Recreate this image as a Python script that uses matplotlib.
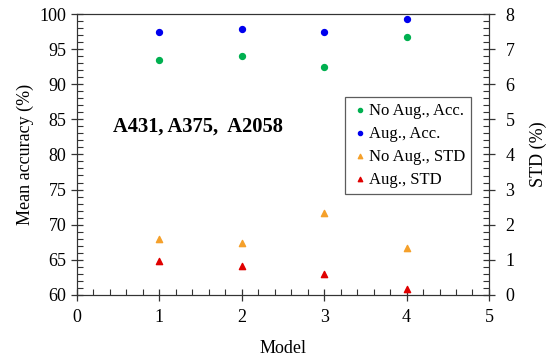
import matplotlib
matplotlib.use('Agg')
import matplotlib.pyplot as plt
from matplotlib.ticker import MultipleLocator

plt.rcParams['font.family'] = ['Liberation Serif', 'DejaVu Serif']

models = [1, 2, 3, 4]
acc_noaug = [93.4, 94.0, 92.5, 96.8]
acc_aug = [97.4, 97.8, 97.5, 99.3]
std_noaug = [1.59, 1.47, 2.33, 1.33]
std_aug = [0.96, 0.83, 0.59, 0.16]

fig = plt.figure(figsize=(5.5, 3.6), dpi=100)
ax = fig.add_axes([0.14, 0.181, 0.749, 0.78])
ax2 = ax.twinx()

h1 = ax.scatter(models, acc_noaug, color='#00b050', s=18, marker='o', zorder=3, label='No Aug., Acc.')
h2 = ax.scatter(models, acc_aug, color='#0000ee', s=18, marker='o', zorder=3, label='Aug., Acc.')
h3 = ax2.scatter(models, std_noaug, color='#f5a02a', s=20, marker='^', zorder=3, label='No Aug., STD')
h4 = ax2.scatter(models, std_aug, color='#e00000', s=20, marker='^', zorder=3, label='Aug., STD')

ax.set_xlim(0, 5)
ax.set_ylim(60, 100)
ax2.set_ylim(0, 8)
ax.xaxis.set_major_locator(MultipleLocator(1))
ax.xaxis.set_minor_locator(MultipleLocator(0.2))
ax.yaxis.set_major_locator(MultipleLocator(5))
ax.yaxis.set_minor_locator(MultipleLocator(1))
ax2.yaxis.set_major_locator(MultipleLocator(1))
ax2.yaxis.set_minor_locator(MultipleLocator(0.2))

for a in (ax, ax2):
    a.tick_params(which='major', direction='inout', length=8, width=0.9, labelsize=13, colors='#333333')
    a.tick_params(which='minor', direction='in', length=4, width=0.8, color='#333333')
    for s in a.spines.values():
        s.set_color('#333333')
ax.tick_params(axis='x', which='both', top=False)
ax.tick_params(axis='x', labelcolor='black', pad=6)
ax.tick_params(axis='y', labelcolor='black')
ax2.tick_params(axis='y', labelcolor='black', pad=8)

ax.set_xlabel('Model', fontsize=13, labelpad=10)
ax.set_ylabel('Mean accuracy (%)', fontsize=13)
ax2.set_ylabel('STD (%)', fontsize=13, labelpad=11)

ax.text(0.44, 83.3, 'A431, A375,  A2058', fontsize=14.8, fontweight='bold')

leg = ax2.legend(handles=[h1, h2, h3, h4], loc='upper right', bbox_to_anchor=(0.956, 0.705),
                 borderaxespad=0, fontsize=12, frameon=True, fancybox=False, edgecolor='#333333',
                 handletextpad=0.0, handlelength=1.1, borderpad=0.35, labelspacing=0.42,
                 markerscale=0.7)
leg.get_frame().set_linewidth(0.9)

fig.savefig('out.png', dpi=100)
